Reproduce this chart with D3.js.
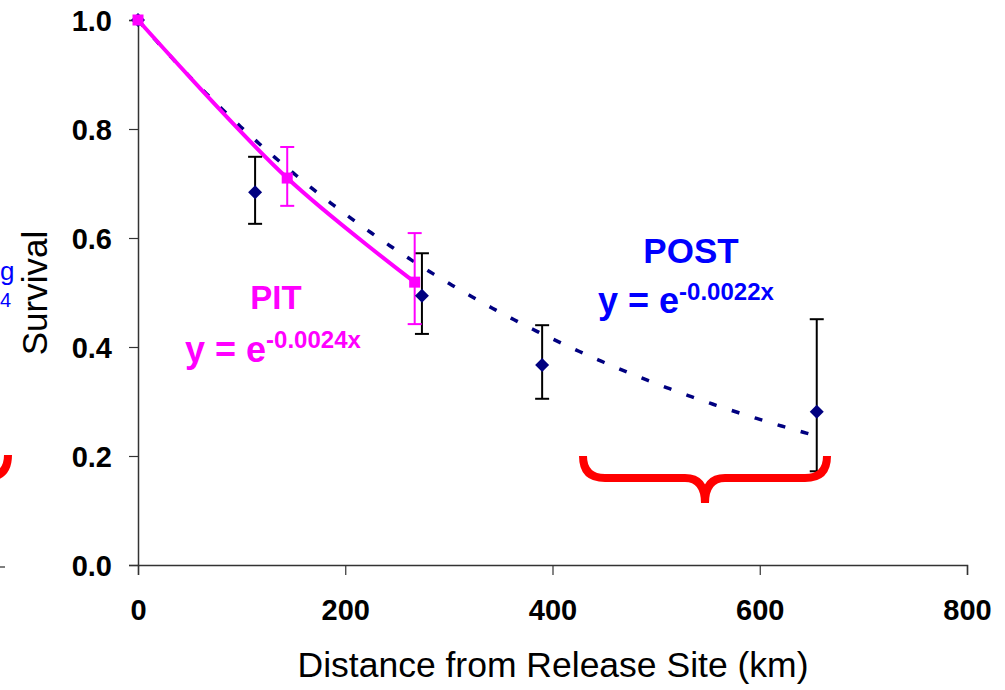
<!DOCTYPE html>
<html>
<head>
<meta charset="utf-8">
<script src="https://cdn.jsdelivr.net/npm/d3@7"></script>
<style>
  body { margin: 0; background: #fff; }
  svg { display: block; font-family: Arial, "Liberation Sans", sans-serif; }
</style>
</head>
<body>
<div id="chart"></div>
<script>
// POST (navy diamonds, black error bars)
const postDistance = [0, 113, 274, 390, 655];
const postSurvival = [1.0, 0.684, 0.494, 0.367, 0.281];
const postLow = [1.0, 0.626, 0.424, 0.305, 0.172];
const postHigh = [1.0, 0.749, 0.572, 0.440, 0.451];

// PIT (magenta squares joined by a smoothed line, magenta error bars)
const pitDistance = [0, 144, 267];
const pitSurvival = [1.0, 0.710, 0.519];
const pitLow = [1.0, 0.659, 0.442];
const pitHigh = [1.0, 0.767, 0.609];

// POST exponential trend line y = e^(k x), as printed on the chart
const postRate = -0.0022;
const postTrendEnd = 655;

const xTicks = [0, 200, 400, 600, 800];
const yTicks = [0, 0.2, 0.4, 0.6, 0.8, 1.0];

const W = 1005, H = 690;
const svg = d3.select("#chart").append("svg").attr("width", W).attr("height", H);

const x = d3.scaleLinear().domain([0, 800]).range([138, 967]);
const y = d3.scaleLinear().domain([0, 1]).range([565, 20]);

// pieces of the neighbouring slide content at the left edge
svg.append("text").attr("x", 0).attr("y", 280).attr("fill", "#0000ff")
  .style("font-size", "26px").style("text-decoration", "underline").text("g");
svg.append("text").attr("x", 0).attr("y", 307).attr("fill", "#0000ff")
  .style("font-size", "20px").text("4");
svg.append("path").attr("d", "M8,455 Q8,478 -16,478")
  .attr("fill", "none").attr("stroke", "#ff0000").attr("stroke-width", 8);
svg.append("line").attr("x1", 0).attr("x2", 5).attr("y1", 567).attr("y2", 567)
  .attr("stroke", "#555").attr("stroke-width", 1.5);

// axes
const yAxis = svg.append("g").attr("transform", `translate(${x(0)},0)`)
  .call(d3.axisLeft(y).tickValues(yTicks).tickSize(9).tickPadding(17).tickFormat(d3.format(".1f")));
const xAxis = svg.append("g").attr("transform", `translate(0,${y(0)})`)
  .call(d3.axisBottom(x).tickValues(xTicks).tickSize(10).tickPadding(24));

[yAxis, xAxis].forEach(g => {
  g.select(".domain").attr("stroke", "#333").attr("stroke-width", 1.5);
  g.selectAll(".tick line").attr("stroke", "#333").attr("stroke-width", 1.2);
  g.selectAll("text").attr("fill", "#000").style("font-size", "29px")
    .style("font-weight", "bold").style("font-family", "Arial, 'Liberation Sans', sans-serif");
});
yAxis.selectAll("text").attr("dy", "0.36em");

// axis titles
svg.append("text").attr("x", 553).attr("y", 677).attr("text-anchor", "middle")
  .style("font-size", "35.5px").text("Distance from Release Site (km)");
svg.append("text").attr("transform", "translate(47,293) rotate(-90)")
  .attr("text-anchor", "middle").style("font-size", "35px").text("Survival");

// POST trend line
const postTrend = d3.range(0, postTrendEnd, 3).concat([postTrendEnd]).map(d => [d, Math.exp(postRate * d)]);
svg.append("path").datum(postTrend)
  .attr("d", d3.line().x(d => x(d[0])).y(d => y(d[1])))
  .attr("fill", "none").attr("stroke", "#000080").attr("stroke-width", 3.5)
  .attr("stroke-dasharray", "8,16");

// PIT smoothed line through its points
svg.append("path").datum(pitDistance.map((d, i) => [d, pitSurvival[i]]))
  .attr("d", d3.line().x(d => x(d[0])).y(d => y(d[1])).curve(d3.curveCatmullRom.alpha(0.5)))
  .attr("fill", "none").attr("stroke", "#ff00ff").attr("stroke-width", 4);

// error bars
function errorBars(xs, lo, hi, color) {
  const g = svg.append("g").attr("stroke", color).attr("stroke-width", 2);
  xs.forEach((d, i) => {
    if (hi[i] === lo[i]) return;
    g.append("line").attr("x1", x(d)).attr("x2", x(d)).attr("y1", y(hi[i])).attr("y2", y(lo[i]));
    [hi[i], lo[i]].forEach(v => g.append("line")
      .attr("x1", x(d) - 7).attr("x2", x(d) + 7).attr("y1", y(v)).attr("y2", y(v)));
  });
}
errorBars(postDistance, postLow, postHigh, "#000");
errorBars(pitDistance, pitLow, pitHigh, "#ff00ff");

// markers
svg.append("g").selectAll("path").data(postDistance).join("path")
  .attr("transform", (d, i) => `translate(${x(d)},${y(postSurvival[i])})`)
  .attr("d", "M0,-7L7,0L0,7L-7,0Z").attr("fill", "#000080");
svg.append("g").selectAll("rect").data(pitDistance).join("rect")
  .attr("x", d => x(d) - 5.5).attr("y", (d, i) => y(pitSurvival[i]) - 5.5)
  .attr("width", 11).attr("height", 11).attr("fill", "#ff00ff");

// labels
svg.append("text").attr("x", 276).attr("y", 309).attr("text-anchor", "middle")
  .attr("fill", "#ff00ff").style("font-size", "33px").style("font-weight", "bold").text("PIT");
const pitEq = svg.append("text").attr("x", 185).attr("y", 362).attr("fill", "#ff00ff")
  .style("font-weight", "bold").style("font-size", "36px");
pitEq.append("tspan").text("y = e");
pitEq.append("tspan").attr("dy", -14).style("font-size", "24px").text("-0.0024x");

svg.append("text").attr("x", 691).attr("y", 263).attr("text-anchor", "middle")
  .attr("fill", "#0000ff").style("font-size", "35px").style("font-weight", "bold").text("POST");
const postEq = svg.append("text").attr("x", 598).attr("y", 313).attr("fill", "#0000ff")
  .style("font-weight", "bold").style("font-size", "36px");
postEq.append("tspan").text("y = e");
postEq.append("tspan").attr("dy", -13).style("font-size", "24px").text("-0.0022x");

// red brace under the POST reach
svg.append("path")
  .attr("d", "M583,456 Q583,478 605,478 L685,478 Q705,478 705,503 Q705,478 725,478 L805,478 Q827,478 827,456")
  .attr("fill", "none").attr("stroke", "#ff0000").attr("stroke-width", 8);
</script>
</body>
</html>
